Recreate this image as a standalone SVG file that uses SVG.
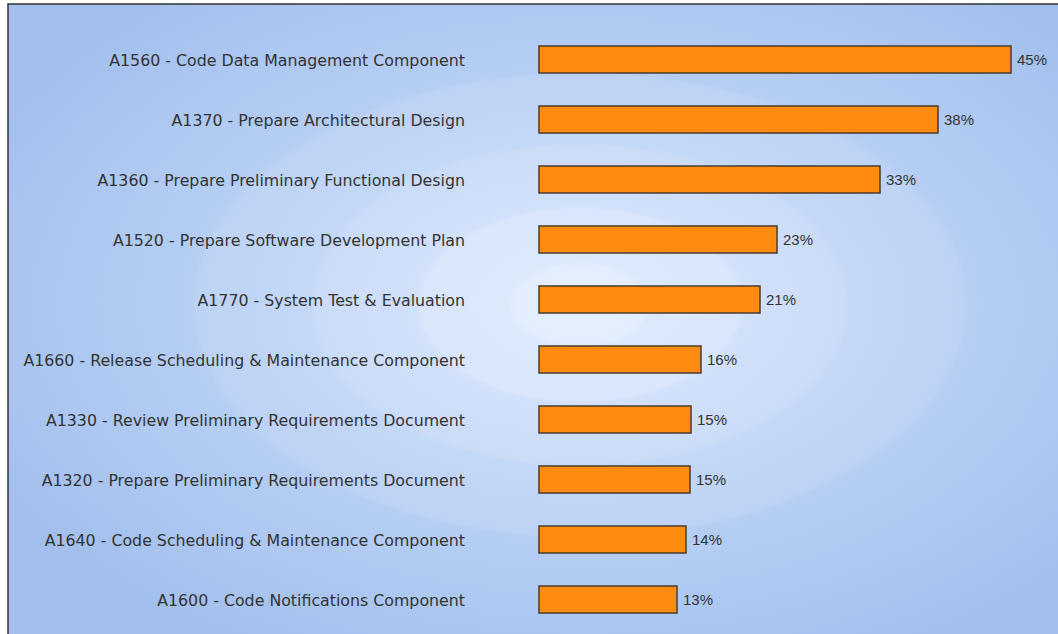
<svg xmlns="http://www.w3.org/2000/svg" width="1058" height="634" viewBox="0 0 1058 634">
<defs>
<radialGradient id="bg" cx="580" cy="305" r="660" gradientUnits="userSpaceOnUse" gradientTransform="translate(580 305) scale(1 0.6) translate(-580 -305)">
<stop offset="0" stop-color="#e6f1fe"/>
<stop offset="0.1" stop-color="#e2eefd"/>
<stop offset="0.11" stop-color="#dde9fc"/>
<stop offset="0.24" stop-color="#d9e6fb"/>
<stop offset="0.25" stop-color="#d2e1fa"/>
<stop offset="0.4" stop-color="#cbdcf8"/>
<stop offset="0.41" stop-color="#c4d8f7"/>
<stop offset="0.58" stop-color="#bdd3f5"/>
<stop offset="0.59" stop-color="#b6cef3"/>
<stop offset="0.78" stop-color="#adc8f1"/>
<stop offset="1" stop-color="#a2bfed"/>
</radialGradient>
<style>
.lbl{font-family:"DejaVu Sans",Verdana,sans-serif;font-size:15.8px;fill:#333;text-anchor:end}
.pct{font-family:"Liberation Sans",Arial,sans-serif;font-size:15px;fill:#333}
.bar{fill:#ff8c10;stroke:#4a3b2c;stroke-width:1.5}
</style>
</defs>
<rect x="0" y="0" width="1058" height="634" fill="#ffffff"/>
<rect x="8" y="4" width="1060" height="640" fill="url(#bg)" stroke="#333" stroke-width="1.5"/>
<g id="connectors"></g>
<g id="row1"><text class="lbl" x="465" y="66">A1560 - Code Data Management Component</text><rect class="bar" x="539" y="46" width="472" height="27"/><text class="pct" x="1017" y="65">45%</text></g>
<g id="row2"><text class="lbl" x="465" y="126">A1370 - Prepare Architectural Design</text><rect class="bar" x="539" y="106" width="399" height="27"/><text class="pct" x="944" y="125">38%</text></g>
<g id="row3"><text class="lbl" x="465" y="186">A1360 - Prepare Preliminary Functional Design</text><rect class="bar" x="539" y="166" width="341" height="27"/><text class="pct" x="886" y="185">33%</text></g>
<g id="row4"><text class="lbl" x="465" y="246">A1520 - Prepare Software Development Plan</text><rect class="bar" x="539" y="226" width="238" height="27"/><text class="pct" x="783" y="245">23%</text></g>
<g id="row5"><text class="lbl" x="465" y="306">A1770 - System Test &amp; Evaluation</text><rect class="bar" x="539" y="286" width="221" height="27"/><text class="pct" x="766" y="305">21%</text></g>
<g id="row6"><text class="lbl" x="465" y="366">A1660 - Release Scheduling &amp; Maintenance Component</text><rect class="bar" x="539" y="346" width="162" height="27"/><text class="pct" x="707" y="365">16%</text></g>
<g id="row7"><text class="lbl" x="465" y="426">A1330 - Review Preliminary Requirements Document</text><rect class="bar" x="539" y="406" width="152" height="27"/><text class="pct" x="697" y="425">15%</text></g>
<g id="row8"><text class="lbl" x="465" y="486">A1320 - Prepare Preliminary Requirements Document</text><rect class="bar" x="539" y="466" width="151" height="27"/><text class="pct" x="696" y="485">15%</text></g>
<g id="row9"><text class="lbl" x="465" y="546">A1640 - Code Scheduling &amp; Maintenance Component</text><rect class="bar" x="539" y="526" width="147" height="27"/><text class="pct" x="692" y="545">14%</text></g>
<g id="row10"><text class="lbl" x="465" y="606">A1600 - Code Notifications Component</text><rect class="bar" x="539" y="586" width="138" height="27"/><text class="pct" x="683" y="605">13%</text></g>
</svg>
